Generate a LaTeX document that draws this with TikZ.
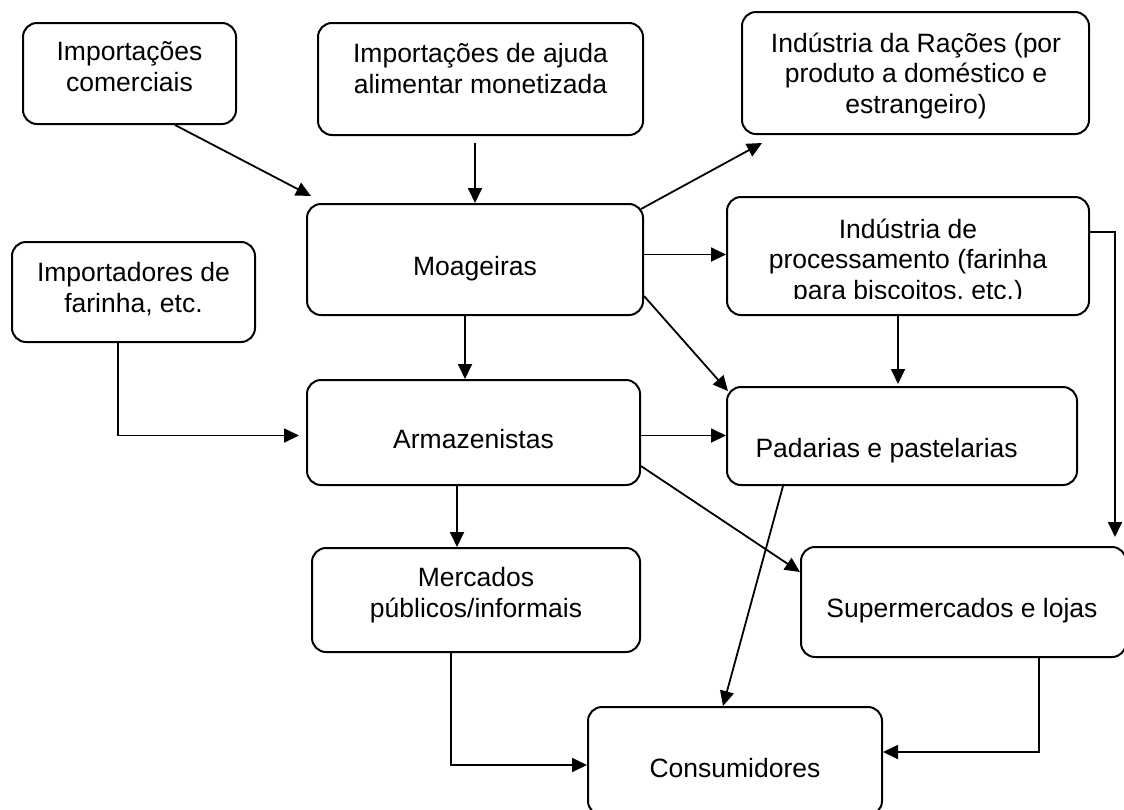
\documentclass[tikz,border=0pt]{standalone}
\usepackage{fontspec}
\setmainfont{Liberation Sans}
\usetikzlibrary{arrows.meta}
\tikzset{
  box/.style={draw, line width=2pt, rounded corners=14pt, inner sep=0pt},
  txt/.style={anchor=base, align=center, font=\fontsize{26.5}{30.5}\selectfont},
  flow/.style={line width=1.8pt, -{Triangle[length=15pt,width=14pt]}}
}
\begin{document}
\begin{tikzpicture}[x=1pt,y=-1pt]
	\clip (0,0) rectangle (1124,809);
	\node[box, minimum width=213pt, minimum height=101pt] (comerc) at (129.5,73.5) {};
	\node[box, minimum width=325pt, minimum height=112pt] (ajuda) at (480.5,79) {};
	\node[box, minimum width=347pt, minimum height=122pt] (racoes) at (915.5,73) {};
	\node[box, minimum width=336pt, minimum height=111pt] (moag) at (475,259.5) {};
	\node[box, minimum width=362pt, minimum height=118pt] (proc) at (908,256) {};
	\node[box, minimum width=243pt, minimum height=100pt] (imp) at (133.5,292) {};
	\node[box, minimum width=333pt, minimum height=105pt] (armaz) at (473.5,432.5) {};
	\node[box, minimum width=350pt, minimum height=98pt] (pad) at (902,436) {};
	\node[box, minimum width=328pt, minimum height=104pt] (merc) at (476,600) {};
	\node[box, minimum width=325pt, minimum height=110pt] (super) at (963.5,602) {};
	\node[box, minimum width=294pt, minimum height=108pt] (cons) at (735,761) {};

	\node[txt] (comerctxt) at (129.5,91) {Importações\\comerciais};
	\node[txt] (ajudatxt) at (480.5,93) {Importações de ajuda\\alimentar monetizada};
	\node[txt] (racoestxt) at (916,113) {Indústria da Rações (por\\produto a doméstico e\\estrangeiro)};
	\node[txt] (moagtxt) at (475,275) {Moageiras};
	\begin{scope}
		\clip (727,197) rectangle (1089,298);
		\node[txt] (proctxt) at (908,299) {Indústria de\\processamento (farinha\\para biscoitos, etc.)};
	\end{scope}
	\node[txt] (imptxt) at (133.5,312) {Importadores de\\farinha, etc.};
	\node[txt] (armaztxt) at (473.5,448) {Armazenistas};
	\node[txt, anchor=base west] (padtxt) at (752,457) {Padarias e pastelarias};
	\node[txt] (merctxt) at (476,617) {Mercados\\públicos/informais};
	\node[txt] (supertxt) at (962,617) {Supermercados e lojas};
	\node[txt] (constxt) at (735,777) {Consumidores};

	\draw[flow] ([xshift=45.5pt]comerc.south) -- ([xshift=5pt,yshift=7pt]moag.north west);
	\draw[flow] ([yshift=-7pt]ajuda.south -| moag.north) -- (moag.north);
	\draw[flow] ([xshift=-3pt,yshift=-6pt]moag.north east) -- ([xshift=21pt,yshift=-8pt]racoes.south west);
	\draw[flow] ([yshift=5pt]moag.east) -- ([yshift=5pt]moag.east -| proc.west);
	\draw[flow] ([yshift=24pt]proc.east) -| ([xshift=-12pt,yshift=9pt]super.north east);
	\draw[flow] ([yshift=20pt]moag.south east) -- ([xshift=2pt,yshift=-5pt]pad.north west);
	\draw[flow] ([xshift=-10pt]moag.south) -- ([xshift=-10pt]moag.south |- armaz.north);
	\draw[flow] ([xshift=-10pt]proc.south) -- ([xshift=-10pt,yshift=2pt]proc.south |- pad.north);
	\draw[flow] ([xshift=-15.5pt]imp.south) |- ([xshift=-7pt,yshift=-3pt]armaz.west);
	\draw[flow] ([yshift=-3pt]armaz.east) -- ([yshift=-3pt]armaz.east -| pad.west);
	\draw[flow] ([yshift=20pt]armaz.south east) -- ([yshift=30pt]super.west);
	\draw[flow] ([xshift=-16.5pt]armaz.south) -- ([xshift=-16.5pt]armaz.south |- merc.north);
	\draw[flow] ([xshift=-119pt]pad.south) -- ([xshift=-12pt]cons.north);
	\draw[flow] ([xshift=-25pt]merc.south) |- ([yshift=-4pt]cons.west);
	\draw[flow] ([xshift=75.5pt]super.south) |- ([yshift=9pt]cons.east);
\end{tikzpicture}
\end{document}
